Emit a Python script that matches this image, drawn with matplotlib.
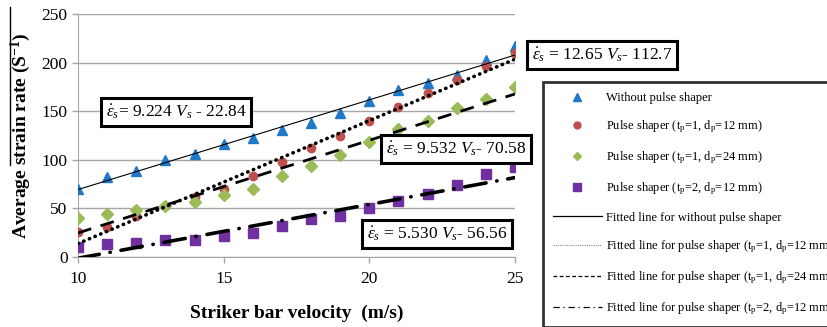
import numpy as np
import matplotlib
matplotlib.use('Agg')
import matplotlib.pyplot as plt
from matplotlib.lines import Line2D

plt.rcParams['font.family'] = 'Liberation Serif'
plt.rcParams['mathtext.fontset'] = 'custom'
plt.rcParams['mathtext.rm'] = 'Liberation Serif'
plt.rcParams['mathtext.it'] = 'Liberation Serif:italic'
plt.rcParams['mathtext.bf'] = 'Liberation Serif:bold'

# ---- data ----
velocity = [10, 11, 12, 13, 14, 15, 16, 17, 18, 19, 20, 21, 22, 23, 24, 25]
rate_none   = [70, 82, 88, 100, 106, 116, 122, 131, 138, 148, 160, 172, 179, 187, 203, 217]
rate_t1_d12 = [26, 31, 42, 52, 62, 70, 83, 98, 112, 125, 140, 154, 169, 182, 196, 210]
rate_t1_d24 = [40, 44, 48, 52, 57, 64, 70, 83, 94, 105, 118, 132, 140, 153, 163, 175]
rate_t2_d12 = [10, 13, 14, 17, 18, 22, 25, 32, 39, 42, 50, 58, 65, 74, 85, 93]

# fitted lines: slope, intercept
fit_none   = (9.224, -22.84)
fit_t1_d12 = (12.65, -112.7)
fit_t1_d24 = (9.532, -70.58)
fit_t2_d12 = (5.530, -56.56)

fig = plt.figure(figsize=(8.27, 3.27), dpi=100)
ax = fig.add_axes([78/827, 1-257/327, (515-78)/827, (257-14)/327])

vline = np.array([10, 25], dtype=float)

ax.plot(velocity, rate_none, '^', color='#1f78c8', ms=7.5, zorder=3)
ax.plot(velocity, rate_t1_d12, 'o', color='#c0504d', ms=6, zorder=3)
ax.plot(velocity, rate_t1_d24, 'D', color='#9bbb59', ms=6.5, zorder=3)
ax.plot(velocity, rate_t2_d12, 's', color='#7030a0', ms=7.5, zorder=3)

ax.plot(vline, fit_none[0]*vline + fit_none[1], '-', color='black', lw=0.8, zorder=4)
ax.plot(vline, fit_t1_d12[0]*vline + fit_t1_d12[1], color='black', lw=2.6,
        linestyle=(0, (0.1, 1.6)), dash_capstyle='round', zorder=4)
ax.plot(vline, fit_t1_d24[0]*vline + fit_t1_d24[1], color='black', lw=2.0,
        linestyle=(0, (5, 3.5)), zorder=4)
ax.plot(vline, fit_t2_d12[0]*vline + fit_t2_d12[1], color='black', lw=2.6,
        linestyle=(0, (6, 3, 0.1, 3)), dash_capstyle='round', zorder=4)

ax.set_xlim(10, 25)
ax.set_ylim(0, 250)
ax.set_xticks([10, 15, 20, 25])
ax.set_yticks([0, 50, 100, 150, 200, 250])
ax.yaxis.grid(True, color='#a6a6a6', lw=1)
ax.set_axisbelow(True)
for s in ['top', 'right']:
    ax.spines[s].set_visible(False)
for s in ['left', 'bottom']:
    ax.spines[s].set_color('#a6a6a6')
ax.tick_params(axis='both', colors='#a6a6a6', labelcolor='black', labelsize=12.5,
               length=4, width=1)
ax.tick_params(axis='x', pad=6)

ax.set_xlabel('Striker bar velocity  (m/s)', fontsize=14, fontweight='bold', labelpad=13)
fig.text(21/827, 1-136/327, r'Average strain rate (S$^\mathbf{-1}$)', rotation=90,
         fontsize=14, fontweight='bold', ha='center', va='center')
fig.add_artist(Line2D([10/827, 10/827], [1-7/327, 1-165/327], color='black', lw=1))

box = dict(boxstyle='square,pad=0.25', fc='white', ec='black', lw=2.2)
eq_fs = 12.5
fig.text(176/827, 1-112/327, r'$\dot{\varepsilon}_s$= 9.224 $V_s$ - 22.84', fontsize=eq_fs,
         ha='center', va='center', bbox=box, zorder=5)
fig.text(602/827, 1-55/327, r'$\dot{\varepsilon}_s$ = 12.65 $V_s$- 112.7', fontsize=eq_fs,
         ha='center', va='center', bbox=box, zorder=5)
fig.text(456/827, 1-149/327, r'$\dot{\varepsilon}_s$ = 9.532 $V_s$- 70.58', fontsize=eq_fs,
         ha='center', va='center', bbox=box, zorder=5)
fig.text(437/827, 1-234/327, r'$\dot{\varepsilon}_s$ = 5.530 $V_s$- 56.56', fontsize=eq_fs,
         ha='center', va='center', bbox=box, zorder=5)

handles = [
    Line2D([], [], ls='none', marker='^', color='#1f78c8', ms=6),
    Line2D([], [], ls='none', marker='o', color='#c0504d', ms=5),
    Line2D([], [], ls='none', marker='D', color='#9bbb59', ms=4),
    Line2D([], [], ls='none', marker='s', color='#7030a0', ms=6),
    Line2D([], [], color='black', lw=0.9),
    Line2D([], [], color='#888888', lw=0.8, linestyle=(0, (1, 1))),
    Line2D([], [], color='black', lw=0.9, linestyle=(0, (3, 2))),
    Line2D([], [], color='black', lw=0.9, linestyle=(0, (5, 3, 1, 3))),
]
labels = [
    'Without pulse shaper',
    r'Pulse shaper (t$_\mathregular{p}$=1, d$_\mathregular{p}$=12 mm)',
    r'Pulse shaper (t$_\mathregular{p}$=1, d$_\mathregular{p}$=24 mm)',
    r'Pulse shaper (t$_\mathregular{p}$=2, d$_\mathregular{p}$=12 mm)',
    'Fitted line for without pulse shaper',
    r'Fitted line for pulse shaper (t$_\mathregular{p}$=1, d$_\mathregular{p}$=12 mm)',
    r'Fitted line for pulse shaper (t$_\mathregular{p}$=1, d$_\mathregular{p}$=24 mm)',
    r'Fitted line for pulse shaper (t$_\mathregular{p}$=2, d$_\mathregular{p}$=12 mm)',
]
leg = fig.legend(handles, labels, loc='upper left', bbox_to_anchor=(543/827, 1-82/327),
                 fontsize=9, frameon=True, fancybox=False, borderpad=0.8,
                 handlelength=3.9, handletextpad=0.35, labelspacing=1.15,
                 borderaxespad=0)
leg.get_frame().set_edgecolor('black')
leg.get_frame().set_linewidth(2)

fig.savefig('out.png', dpi=100)
